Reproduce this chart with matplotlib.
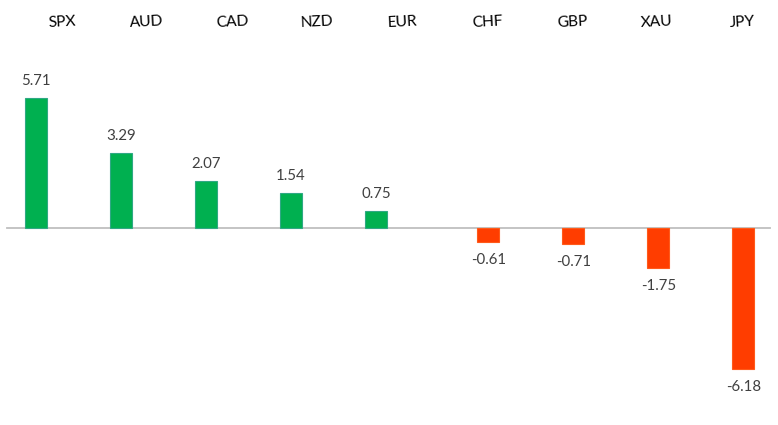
import numpy as np
import matplotlib
matplotlib.use("Agg")
import matplotlib.pyplot as plt

# weekly performance by asset
assets = ['SPX', 'AUD', 'CAD', 'NZD', 'EUR', 'CHF', 'GBP', 'XAU', 'JPY']
changes = [5.71, 3.29, 2.07, 1.54, 0.75, -0.61, -0.71, -1.75, -6.18]

plt.rcParams['font.family'] = ['Lato', 'DejaVu Sans']

fig = plt.figure(figsize=(7.78, 4.25), dpi=100)
ax = fig.add_axes([0, 0, 1, 1])

# bars: negatives sit a little further right than the even spacing
pos = np.arange(len(assets), dtype=float)
pos[np.array(changes) < 0] += 0.32
colors = ['#00B050' if v >= 0 else '#FF3D00' for v in changes]
edges = ['#2FA884' if v >= 0 else '#FF5A1A' for v in changes]

ax.axhline(0, xmin=0.009, xmax=0.99, color='#BFBFBF', lw=1.3, zorder=1)
ax.bar(pos, changes, width=0.26, color=colors, edgecolor=edges, linewidth=0.8, zorder=2)

for x, v in zip(pos, changes):
    if v >= 0:
        ax.annotate(f'{v:.2f}', (x, v), xytext=(0, 7), textcoords='offset points',
                    ha='center', va='bottom', fontsize=10.8, color='#404040')
    else:
        ax.annotate(f'{v:.2f}', (x, v), xytext=(0, -8), textcoords='offset points',
                    ha='center', va='top', fontsize=10.8, color='#404040')

# asset names along the top, evenly spaced
for i, name in enumerate(assets):
    ax.text(i + 0.306, 1 - 22 / 425, name, transform=ax.get_xaxis_transform(),
            ha='center', va='center', fontsize=11.2, color='black', rotation=3)

ax.set_xlim(-36 / 85, (778 - 36) / 85)
ax.set_ylim(-197 / 22.8, 228 / 22.8)
ax.axis('off')

fig.savefig('out.png', dpi=100, facecolor='white')
